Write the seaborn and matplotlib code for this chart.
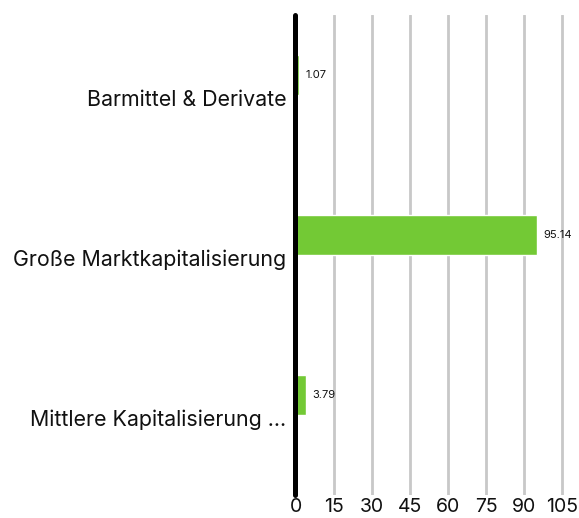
import seaborn as sns
import matplotlib.pyplot as plt
import matplotlib.transforms as mtransforms
import pandas as pd

categories = ['Barmittel & Derivate', 'Große Marktkapitalisierung', 'Mittlere Kapitalisierung ...']
values = [1.07, 95.14, 3.79]
xticks = [0, 15, 30, 45, 60, 75, 90, 105]

df = pd.DataFrame({'cat': categories, 'val': values})

sns.set_style('white')
plt.rcParams['font.family'] = ['Inter', 'DejaVu Sans']

fig = plt.figure(figsize=(5.79, 5.18), dpi=100)
ax = fig.add_axes([296 / 579, 1 - 495 / 518, (108 * 2.533) / 579, 480 / 518])

bh = 0.25
sns.barplot(data=df, x='val', y='cat', color='#73c935', width=bh, ax=ax, saturation=1, zorder=3)
# bars sit just above the category line
for p in ax.patches:
    p.set_y(p.get_y() - bh / 2)

for i, v in enumerate(values):
    ax.text(v + 2.6, i - bh / 2, f'{v:.2f}', va='center', ha='left', fontsize=8, color='#111111')

ax.set_xlim(0, 108)
ax.set_ylim(2.5, -0.5)
ax.set_xticks(xticks)
ax.set_xticklabels([str(t) for t in xticks], fontsize=14, color='#111111')
ax.set_xlabel('')
ax.set_ylabel('')
ax.tick_params(axis='y', labelsize=15.4, length=0, pad=7, labelcolor='#111111')
ax.tick_params(axis='x', length=0, pad=2)
shift = mtransforms.ScaledTranslation(0, -3 / 100, fig.dpi_scale_trans)
for t in ax.get_yticklabels():
    t.set_transform(t.get_transform() + shift)

for x in xticks[1:]:
    ax.axvline(x, color='#c8c8c8', lw=2, zorder=1)
ax.axvline(-0.4, color='black', lw=3.6, zorder=4, clip_on=False)

for s in ax.spines.values():
    s.set_visible(False)

fig.savefig('out.png', dpi=100)
